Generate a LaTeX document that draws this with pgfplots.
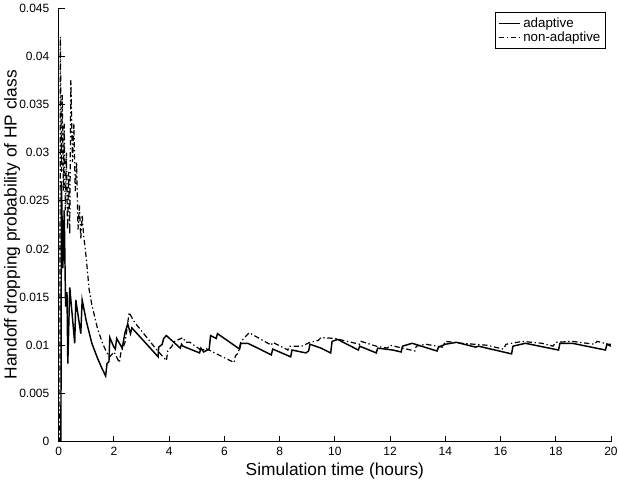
\documentclass[border=0pt]{standalone}
\usepackage{pgfplots}
\pgfplotsset{compat=1.18}
\usepackage{fontspec}
\setmainfont{Liberation Sans}
\begin{document}
\begin{tikzpicture}
\begin{axis}[
  scale only axis,
  width=414pt, height=325pt,
  xmin=0, xmax=20, ymin=0, ymax=0.045,
  axis x line*=bottom, axis y line*=left,
  axis line style={line width=0.8pt},
  tick align=inside,
  major tick length=4.5pt,
  tick style={line width=0.7pt, black},
  xtick={0,2,...,20},
  xticklabels={0,2,4,6,8,10,12,14,16,18,20},
  ytick={0,0.005,0.01,0.015,0.02,0.025,0.03,0.035,0.04,0.045},
  yticklabels={0,0.005,0.01,0.015,0.02,0.025,0.03,0.035,0.04,0.045},
  scaled y ticks=false,
  ticklabel style={font=\fontsize{9}{11}\selectfont},
  yticklabel style={xshift=-3.5pt},
  xticklabel style={yshift=-1pt},
  xlabel={Simulation time (hours)},
  ylabel={Handoff dropping probability of HP class},
  label style={font=\fontsize{13}{15}\selectfont},
  x label style={at={(axis description cs:0.5,-0.067)}, anchor=center},
  y label style={at={(axis description cs:-0.0845,0.5)}, anchor=center},
  legend style={at={(rel axis cs:0.99,0.99)}, anchor=north east,
    font=\fontsize{10}{11}\selectfont, draw=black, line width=0.6pt,
    inner sep=1.5pt, row sep=-2pt, legend cell align=left},
  legend image code/.code={\draw[#1] (0pt,0pt) -- (16pt,0pt);},
]
\addplot[black, line width=1.1pt] coordinates {
(0,0) (0.08,0) (0.1,0.027) (0.15,0.018) (0.2,0.024) (0.25,0.014) (0.3,0.0155)
(0.33,0.0081) (0.4,0.016) (0.58,0.0102) (0.62,0.0147) (0.8,0.0112) (0.85,0.0147)
(1.0,0.0125) (1.2,0.0102) (1.4,0.0087) (1.55,0.0077) (1.7,0.0068) (1.75,0.0081)
(1.82,0.0083) (1.85,0.0108) (2.0,0.0098) (2.05,0.0096) (2.1,0.0107) (2.3,0.0097)
(2.4,0.0113) (2.5,0.0122) (2.6,0.0112) (2.65,0.0118) (3.6,0.0088) (3.62,0.0098)
(3.75,0.0101) (3.8,0.0107) (3.9,0.011) (4.4,0.0097) (4.45,0.0101) (4.5,0.0099)
(5.1,0.0092) (5.15,0.0097) (5.25,0.0093) (5.45,0.0096) (5.5,0.011) (5.7,0.0107)
(5.75,0.0112) (6.55,0.0096) (6.6,0.0102) (6.85,0.0102) (7.7,0.009) (7.75,0.0096)
(8.4,0.0088) (8.45,0.0095) (8.95,0.0092) (9.05,0.0094) (9.1,0.0101) (9.5,0.0097)
(9.85,0.0092) (9.9,0.0104) (10.1,0.0106) (10.85,0.0095) (10.9,0.0099) (11.5,0.0092)
(11.55,0.0097) (12.1,0.0095) (12.4,0.0093) (12.45,0.0099) (12.8,0.0102) (13.7,0.0094)
(13.75,0.0098) (14.0,0.0101) (14.4,0.0103) (15.1,0.0098) (15.2,0.0099) (16.4,0.0091)
(16.45,0.0099) (16.9,0.0102) (18.1,0.0095) (18.15,0.0102) (18.6,0.0102) (19.8,0.0095)
(19.85,0.0101) (20,0.0099)
};
\addlegendentry{adaptive}
\addplot[black, line width=0.9pt, dash pattern=on 4pt off 2pt on 1pt off 2pt] coordinates {
(0,0) (0.04,0) (0.06,0.042) (0.1,0.028) (0.13,0.036) (0.17,0.026) (0.2,0.033)
(0.24,0.024) (0.28,0.03) (0.32,0.022) (0.36,0.028) (0.4,0.0215) (0.44,0.0375)
(0.5,0.029) (0.55,0.033) (0.6,0.026) (0.65,0.029) (0.7,0.022) (0.75,0.0245)
(0.8,0.021) (0.85,0.0235) (0.9,0.0215) (1.0,0.019) (1.1,0.0158) (1.2,0.0142)
(1.4,0.0118) (1.6,0.0101) (1.75,0.0092) (1.85,0.0088) (2.0,0.0093) (2.2,0.0082)
(2.25,0.0092) (2.4,0.0103) (2.45,0.0112) (2.55,0.0134) (2.7,0.0126) (2.8,0.0122)
(3.5,0.0097) (3.9,0.0084) (3.95,0.0094) (4.1,0.0099) (4.2,0.0104) (4.5,0.0108)
(4.6,0.0103) (4.75,0.0103) (5.2,0.0094) (5.3,0.0097) (6.35,0.0082) (6.4,0.0089)
(6.5,0.0092) (6.6,0.0104) (6.9,0.0113) (7.7,0.01) (7.75,0.0103) (8.3,0.0095)
(8.35,0.0099) (8.8,0.0099) (9.1,0.0103) (9.4,0.0105) (9.5,0.0108) (10.0,0.0107)
(10.9,0.0101) (10.95,0.0104) (11.5,0.0099) (11.9,0.0097) (12.0,0.01) (12.9,0.0094)
(12.95,0.0099) (13.3,0.0101) (13.9,0.0098) (14.0,0.0104) (14.6,0.0102) (15.5,0.01)
(16.1,0.0096) (16.2,0.0101) (16.8,0.0104) (17.5,0.0102) (17.9,0.0099) (18.0,0.0103)
(18.6,0.0104) (19.4,0.0101) (19.5,0.0104) (19.9,0.0101) (20,0.0101)
};
\addlegendentry{non-adaptive}
\coordinate (sw) at (rel axis cs:0,0);
\coordinate (ne) at (rel axis cs:1,1);
\end{axis}
\pgfresetboundingbox
\path ([shift={(-44pt,-34.5pt)}]sw) rectangle ([shift={(5.25pt,6pt)}]ne);
\end{tikzpicture}
\end{document}
